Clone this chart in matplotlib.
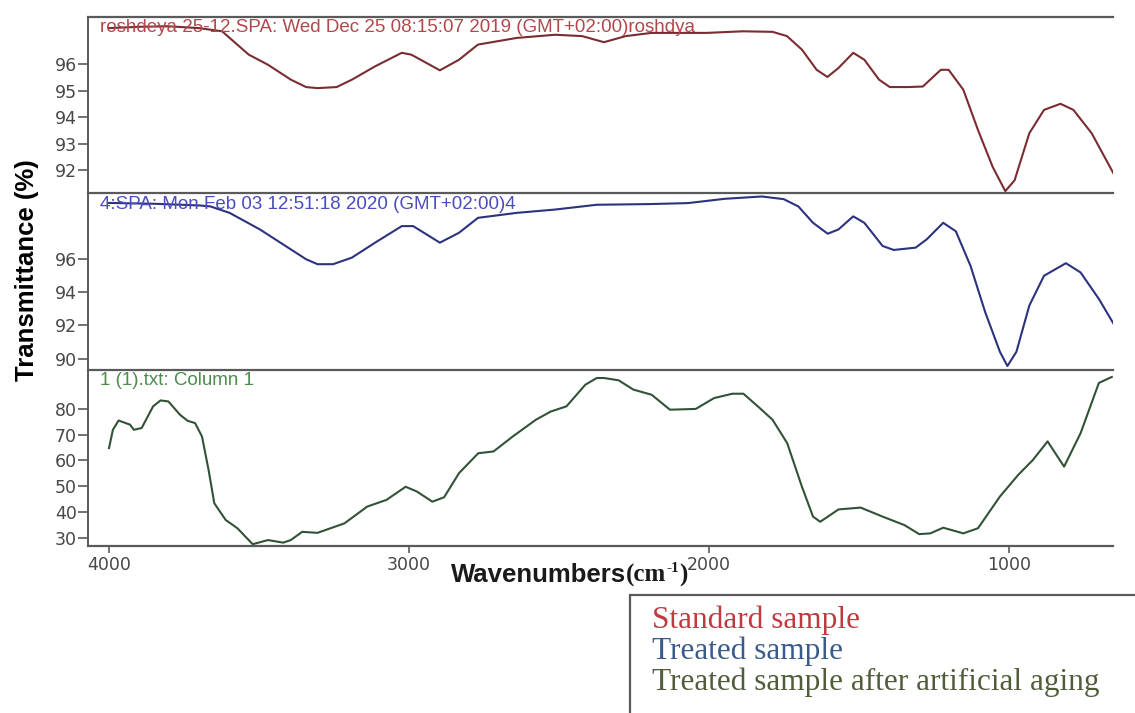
import matplotlib
matplotlib.use("Agg")
import matplotlib.pyplot as plt
from matplotlib.patches import Rectangle

# ---------------- data ----------------
std_wn = [4000, 3900, 3803, 3700, 3623, 3534, 3470, 3394, 3343, 3305, 3241, 3190,
          3113, 3024, 2992, 2897, 2833, 2770, 2641, 2513, 2423, 2350, 2277, 2191,
          2008, 1887, 1788, 1740, 1690, 1641, 1605, 1568, 1519, 1482, 1433, 1397,
          1337, 1287, 1227, 1201, 1152, 1103, 1054, 1012, 981, 932, 883, 828, 785,
          724, 651]
std_t = [97.35, 97.40, 97.42, 97.35, 97.23, 96.35, 95.97, 95.41, 95.13, 95.09, 95.13,
         95.41, 95.91, 96.42, 96.35, 95.76, 96.16, 96.73, 96.98, 97.10, 97.05, 96.82,
         97.05, 97.17, 97.17, 97.23, 97.21, 97.05, 96.54, 95.78, 95.51, 95.85, 96.42,
         96.16, 95.41, 95.13, 95.13, 95.15, 95.78, 95.78, 95.03, 93.51, 92.12, 91.21,
         91.62, 93.39, 94.27, 94.50, 94.27, 93.39, 91.87]

trt_wn = [4000, 3850, 3700, 3662, 3598, 3497, 3420, 3343, 3305, 3253, 3190, 3113,
          3024, 2986, 2897, 2833, 2770, 2641, 2513, 2374, 2200, 2070, 1947, 1824,
          1751, 1702, 1653, 1604, 1568, 1519, 1482, 1421, 1384, 1311, 1274, 1219,
          1177, 1128, 1079, 1030, 1005, 975, 932, 883, 810, 761, 700, 651]
trt_t = [99.40, 99.35, 99.25, 99.19, 98.80, 97.80, 96.90, 96.00, 95.70, 95.70, 96.10,
         97.00, 98.00, 98.00, 97.00, 97.60, 98.50, 98.80, 99.00, 99.29, 99.33, 99.39,
         99.65, 99.79, 99.63, 99.19, 98.20, 97.54, 97.80, 98.59, 98.20, 96.80, 96.56,
         96.70, 97.20, 98.20, 97.69, 95.60, 92.80, 90.41, 89.55, 90.41, 93.20, 95.00,
         95.76, 95.20, 93.60, 92.10]

aged_wn = [4000, 3987, 3968, 3930, 3917, 3891, 3853, 3828, 3802, 3763, 3738, 3713,
           3690, 3668, 3649, 3611, 3572, 3521, 3470, 3419, 3394, 3356, 3305, 3215,
           3139, 3075, 3011, 2973, 2922, 2883, 2833, 2769, 2718, 2654, 2577, 2527,
           2475, 2412, 2374, 2350, 2301, 2252, 2191, 2130, 2044, 1983, 1922, 1885,
           1837, 1788, 1739, 1690, 1653, 1629, 1568, 1494, 1421, 1348, 1299, 1262,
           1219, 1152, 1103, 1030, 969, 920, 871, 816, 761, 700, 657]
aged_t = [64.8, 71.9, 75.5, 73.9, 71.9, 72.6, 81.0, 83.3, 82.9, 77.7, 75.4, 74.5,
          69.3, 56.3, 43.4, 36.9, 33.7, 27.5, 29.1, 28.1, 29.1, 32.3, 31.9, 35.6,
          42.1, 44.7, 49.8, 47.9, 44.0, 45.7, 55.1, 62.8, 63.5, 69.3, 75.8, 79.0,
          81.0, 89.4, 92.0, 92.0, 91.1, 87.5, 85.5, 79.7, 80.0, 84.2, 85.9, 85.9,
          81.0, 75.8, 66.7, 49.8, 38.2, 36.2, 41.0, 41.7, 38.2, 34.9, 31.4, 31.7,
          33.9, 31.7, 33.7, 46.0, 54.4, 60.2, 67.4, 57.6, 70.6, 90.1, 92.4]

x_ticks = [4000, 3000, 2000, 1000]
top_yticks = [92, 93, 94, 95, 96]
mid_yticks = [90, 92, 94, 96]
bot_yticks = [30, 40, 50, 60, 70, 80]

titles = ["roshdeya 25-12.SPA: Wed Dec 25 08:15:07 2019 (GMT+02:00)roshdya",
          "4:SPA: Mon Feb 03 12:51:18 2020 (GMT+02:00)4",
          "1 (1).txt: Column 1"]
legend_labels = ["Standard sample", "Treated sample",
                 "Treated sample after artificial aging"]

# ---------------- figure ----------------
W, H = 1135, 713
fig = plt.figure(figsize=(W / 100, H / 100), dpi=100)
fig.patch.set_facecolor("white")

def fy(px):
    return 1 - px / H

left = 88 / W
width = (1113 - 88) / W
bounds = [16.7, 193.0, 369.5, 546.0]
ylims = [(91.14, 97.78), (89.34, 100.0), (26.8, 95.3)]
yticks = [top_yticks, mid_yticks, bot_yticks]
line_cols = ["#7a2c31", "#2c327e", "#325238"]
title_cols = ["#b0484c", "#4a4cc0", "#4c8c4c"]
series = [(std_wn, std_t), (trt_wn, trt_t), (aged_wn, aged_t)]
spine_col = "#5a5a5a"
tick_col = "#474747"

axes = []
for i in range(3):
    top_px, bot_px = bounds[i], bounds[i + 1]
    ax = fig.add_axes([left, fy(bot_px), width, (bot_px - top_px) / H])
    axes.append(ax)
    wn, t = series[i]
    ax.plot(wn, t, color=line_cols[i], lw=1.5, solid_joinstyle="round")
    ax.set_xlim(4070, 653)
    ax.set_ylim(*ylims[i])
    ax.set_yticks(yticks[i])
    ax.tick_params(axis="y", direction="out", length=7, width=1.2,
                   colors=spine_col, labelcolor=tick_col, labelsize=12.5, pad=1)
    ax.spines["right"].set_visible(False)
    ax.spines["top"].set_color(spine_col)
    ax.spines["top"].set_linewidth(1.6)
    ax.spines["left"].set_color(spine_col)
    ax.spines["left"].set_linewidth(1.4)
    if i < 2:
        ax.spines["bottom"].set_visible(False)
        ax.set_xticks([])
    else:
        ax.spines["bottom"].set_color(spine_col)
        ax.spines["bottom"].set_linewidth(1.6)
        ax.set_xticks(x_ticks)
        ax.tick_params(axis="x", direction="out", length=5, width=1.2,
                       colors=spine_col, labelcolor=tick_col, labelsize=12.5, pad=2)
    ax.text(0.012, 0.985, titles[i], transform=ax.transAxes, ha="left", va="top",
            fontsize=13.5, color=title_cols[i], family="Liberation Sans")

# axis labels
fig.text(27 / W, fy(270), "Transmittance (%)", rotation=90, ha="center",
         va="center", fontsize=18.5, fontweight="bold", family="Liberation Sans")

renderer = fig.canvas.get_renderer()
t1 = fig.text(451 / W, fy(582), "Wavenumbers", ha="left", va="baseline",
              fontsize=18.5, fontweight="bold", family="Liberation Sans",
              color="#1a1a1a")
x_end = t1.get_window_extent(renderer).x1 / W
t2 = fig.text(x_end, fy(582), "(cm", ha="left", va="baseline", fontsize=18,
              fontweight="bold", family="Liberation Serif", color="#1a1a1a")
x_end = t2.get_window_extent(renderer).x1 / W
t3 = fig.text(x_end, fy(572), "-1", ha="left", va="baseline", fontsize=11,
              fontweight="bold", family="Liberation Serif", color="#1a1a1a")
x_end = t3.get_window_extent(renderer).x1 / W
fig.text(x_end, fy(582), ")", ha="left", va="baseline", fontsize=18,
         fontweight="bold", family="Liberation Serif", color="#1a1a1a")

# legend box
fig.patches.append(Rectangle((630 / W, -0.05), 0.6, fy(595) + 0.05,
                             transform=fig.transFigure, fill=False,
                             edgecolor="#5a5a5a", lw=1.6))
leg_cols = ["#c0393f", "#3b5a8c", "#4f5d3a"]
leg_y = [620, 651, 682]
for lab, c, yy in zip(legend_labels, leg_cols, leg_y):
    fig.text(652 / W, fy(yy), lab, ha="left", va="center", fontsize=22.5,
             color=c, family="Liberation Serif")

fig.savefig("out.png", dpi=100, facecolor="white")
